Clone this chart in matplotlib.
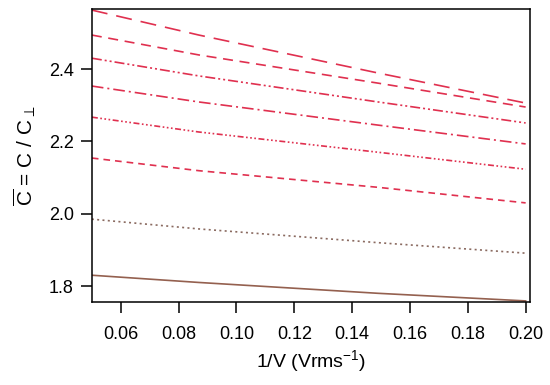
import numpy as np
import matplotlib.pyplot as plt

plt.rcParams['font.family'] = ['Liberation Sans', 'DejaVu Sans']
plt.rcParams['mathtext.fontset'] = 'custom'
plt.rcParams['mathtext.rm'] = 'Liberation Sans'
plt.rcParams['mathtext.it'] = 'Liberation Sans:italic'

inv_v = [0.05, 0.087, 0.149, 0.20]

c_long_dash = [2.563, 2.494, 2.389, 2.306]
c_dash = [2.494, 2.439, 2.361, 2.295]
c_dash_dot_dot = [2.430, 2.381, 2.309, 2.251]
c_dash_dot = [2.353, 2.309, 2.245, 2.193]
c_dash_dots = [2.267, 2.226, 2.170, 2.123]
c_short_dash = [2.154, 2.119, 2.073, 2.030]
c_dotted = [1.985, 1.958, 1.920, 1.891]
c_solid = [1.830, 1.810, 1.780, 1.759]

red = '#e0304f'
brown = '#94604f'

series = [
    (c_long_dash, red, (0, (9.6, 5.4))),
    (c_dash, red, (0, (6, 4))),
    (c_dash_dot_dot, red, (0, (6, 1.8, 1.2, 1.8, 1.2, 1.8))),
    (c_dash_dot, red, (0, (7, 2.4, 1.2, 2.4))),
    (c_dash_dots, red, (0, (3.6, 1.5, 1, 1.5, 1, 1.5, 1, 1.5))),
    (c_short_dash, red, (0, (4, 3))),
    (c_dotted, '#8a6a60', (0, (1.2, 2))),
    (c_solid, brown, '-'),
]

fig = plt.figure(figsize=(5.5, 3.85), dpi=100)
ax = fig.add_axes([0.167, 0.2156, 0.7966, 0.761])

for vals, col, ls in series:
    ax.plot(inv_v, vals, color=col, linestyle=ls, linewidth=1.2)

ax.set_xlim(0.05, 0.2015)
ax.set_ylim(1.756, 2.566)
ax.set_xticks([0.06, 0.08, 0.10, 0.12, 0.14, 0.16, 0.18, 0.20])
ax.set_xticklabels(['0.06', '0.08', '0.10', '0.12', '0.14', '0.16', '0.18', '0.20'])
ax.set_yticks([1.8, 2.0, 2.2, 2.4])
ax.set_yticklabels(['1.8', '2.0', '2.2', '2.4'])

for s in ax.spines.values():
    s.set_linewidth(1.1)
ax.tick_params(direction='out', length=8, width=1.1, labelsize=13, pad=5)
ax.tick_params(axis='x', pad=9)

ax.set_xlabel(r'1/V (Vrms$^{-1}$)', fontsize=14, labelpad=4)
ax.set_ylabel(r'$\overline{\mathrm{C}}$ = C / C$_{\perp}$', fontsize=15, labelpad=8)

fig.savefig('out.png', dpi=100)
